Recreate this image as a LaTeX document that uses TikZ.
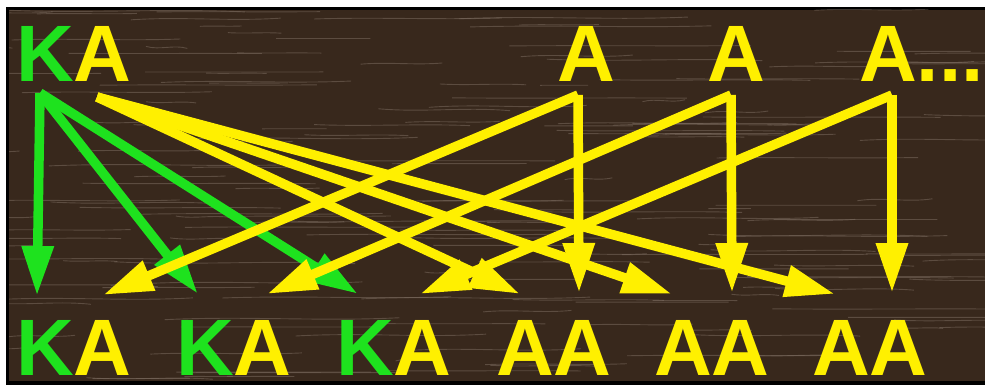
\documentclass[tikz,border=0pt]{standalone}
\usepackage{fontspec}
\setmainfont{Liberation Sans}
\usetikzlibrary{arrows.meta}
\definecolor{wood}{RGB}{56,40,28}
\definecolor{grainc}{RGB}{128,112,100}
\definecolor{kgreen}{RGB}{30,226,30}
\definecolor{kyellow}{RGB}{255,240,0}
\begin{document}
\begin{tikzpicture}[x=1pt,y=-1pt,
  lbl/.style={inner sep=0pt, anchor=base west, text=kyellow,
    font=\bfseries\fontsize{80}{80}\selectfont},
  garrow/.style={draw=kgreen, line width=9.5pt, -{Triangle[length=50pt,width=30pt]}},
  yarrow/.style={draw=kyellow, line width=9.5pt, -{Triangle[length=50pt,width=30pt]}},
  grainline/.style={draw=grainc, line width=0.9pt, opacity=0.5}]
\useasboundingbox (0,0) rectangle (985,385);
\fill[white] (0,0) rectangle (985,385);
\fill[black] (6,7) rectangle (990,386);
\fill[wood] (9,10) rectangle (990,381);
\begin{scope}
  \clip (9,10) rectangle (990,381);
  \pgfmathsetseed{11}
  \foreach \i in {1,...,170}{
    \pgfmathsetmacro\gy{10+rnd*372}
    \pgfmathsetmacro\gx{-60+rnd*1000}
    \pgfmathsetmacro\gl{40+rnd*220}
    \pgfmathsetmacro\gd{(rnd-0.5)*8}
    \draw[grainline] (\gx,\gy) .. controls +(\gl/3,\gd) and +(-\gl/3,-\gd) .. ++(\gl,\gd/2);
  }
\end{scope}

% labels
\node[lbl] (ka)  at (16,82) {\textcolor{kgreen}{K}A};
\node[lbl] (a1)  at (557,82) {A};
\node[lbl] (a2)  at (707,82) {A};
\node[lbl] (a3)  at (859,82) {A...};
\node[lbl] (b1)  at (16,375) {\textcolor{kgreen}{K}A};
\node[lbl] (b2)  at (176,375) {\textcolor{kgreen}{K}A};
\node[lbl] (b3)  at (336,375) {\textcolor{kgreen}{K}A};
\node[lbl] (b4)  at (496,375) {AA};
\node[lbl] (b5)  at (654,375) {AA};
\node[lbl] (b6)  at (812,375) {AA};

% connector ends
\coordinate (gs) at (40,93);
\coordinate (g1) at (37,296);
\coordinate (g2) at (198,294);
\coordinate (g3) at (358,294);
\coordinate (ys) at (97,97);
\coordinate (y1) at (520,294);
\coordinate (y2) at (672,294);
\coordinate (y3) at (835,294);
\coordinate (a1s) at (578,95);
\coordinate (a1v) at (579,293);
\coordinate (a1d) at (103,295);
\coordinate (a2s) at (731,95);
\coordinate (a2v) at (732,293);
\coordinate (a2d) at (267,294);
\coordinate (a3s) at (892,95);
\coordinate (a3v) at (892,293);
\coordinate (a3d) at (420,294);

\draw[garrow] (gs) -- (g1);
\draw[garrow] (gs) -- (g2);
\draw[garrow] (gs) -- (g3);

\draw[yarrow] (ys) -- (y1);
\draw[yarrow] (ys) -- (y2);
\draw[yarrow] (ys) -- (y3);
\draw[yarrow] (a1s) -- (a1v);
\draw[yarrow] (a1s) -- (a1d);
\draw[yarrow] (a2s) -- (a2v);
\draw[yarrow] (a2s) -- (a2d);
\draw[yarrow] (a3s) -- (a3v);
\draw[yarrow] (a3s) -- (a3d);
\end{tikzpicture}
\end{document}
